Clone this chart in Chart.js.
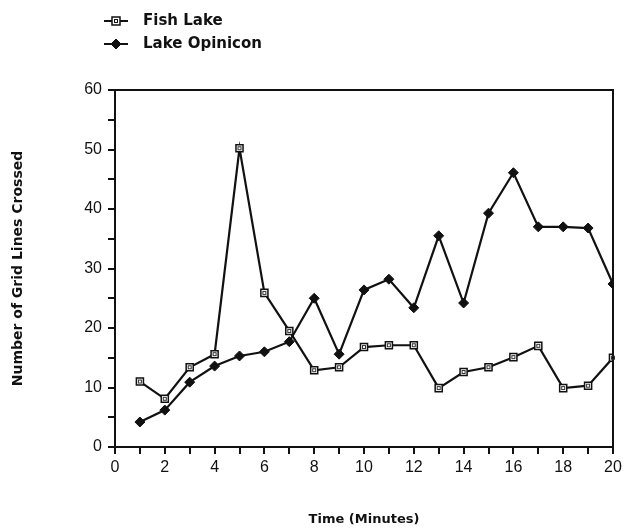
<!DOCTYPE html>
<html>
<head>
<meta charset="utf-8">
<script src="https://cdn.jsdelivr.net/npm/chart.js@4.4.0/dist/chart.umd.min.js"></script>
<style>
  html, body { margin: 0; padding: 0; background: #fff; }
  #wrap { width: 629px; height: 531px; position: relative; }
</style>
</head>
<body>
<div id="wrap"><canvas id="chart"></canvas></div>
<script>
// values
const minutes = [1, 2, 3, 4, 5, 6, 7, 8, 9, 10, 11, 12, 13, 14, 15, 16, 17, 18, 19, 20];
const fishLake = [11, 8.1, 13.4, 15.6, 50.2, 25.9, 19.5, 12.9, 13.4, 16.8, 17.1, 17.1, 9.9, 12.6, 13.4, 15.1, 17, 9.9, 10.3, 15];
const lakeOpinicon = [4.2, 6.2, 10.9, 13.6, 15.3, 16, 17.7, 25, 15.6, 26.4, 28.2, 23.4, 35.5, 24.2, 39.3, 46.1, 37, 37, 36.8, 27.4];
const seriesNames = ["Fish Lake", "Lake Opinicon"];

const toPoints = arr => arr.map((v, i) => ({ x: minutes[i], y: v }));
const boldFont = "'DejaVu Sans', Arial, sans-serif";
const tickFont = "'Liberation Sans', Arial, sans-serif";

// little legend with line + marker, like the original
const lineLegend = {
  id: "lineLegend",
  afterDraw(chart) {
    const ctx = chart.ctx;
    ctx.save();
    chart.data.datasets.forEach((ds, i) => {
      const y = 21 + i * 23;
      ctx.strokeStyle = "#111";
      ctx.lineWidth = 2;
      ctx.beginPath();
      ctx.moveTo(104, y);
      ctx.lineTo(128, y);
      ctx.stroke();
      ctx.fillStyle = ds.pointBackgroundColor;
      ctx.lineWidth = ds.pointBorderWidth;
      ctx.beginPath();
      if (ds.pointStyle === "rect") {
        ctx.rect(116 - 4, y - 4, 8, 8);
      } else {
        ctx.moveTo(116, y - 5); ctx.lineTo(121, y); ctx.lineTo(116, y + 5); ctx.lineTo(111, y);
        ctx.closePath();
      }
      ctx.fill(); ctx.stroke();
      if (ds.pointStyle === "rect") {
        ctx.lineWidth = 1;
        ctx.strokeRect(114.5, y - 1.5, 3, 3);
      }
      ctx.fillStyle = "#111";
      ctx.font = "bold 15px " + boldFont;
      ctx.textBaseline = "middle";
      ctx.fillText(ds.label, 143, y);
    });
    ctx.restore();
  }
};

// full box around the plot area
const frame = {
  id: "frame",
  afterDatasetsDraw(chart) {
    const a = chart.chartArea, ctx = chart.ctx;
    ctx.save();
    ctx.strokeStyle = "#111";
    ctx.lineWidth = 2;
    ctx.strokeRect(a.left, a.top, a.right - a.left, a.bottom - a.top);
    ctx.restore();
  }
};

// small dot in the middle of each square marker
const squareDots = {
  id: "squareDots",
  afterDatasetsDraw(chart) {
    const meta = chart.getDatasetMeta(0), ctx = chart.ctx;
    ctx.save();
    ctx.strokeStyle = "#333";
    ctx.lineWidth = 1;
    meta.data.forEach(p => ctx.strokeRect(p.x - 1.5, p.y - 1.5, 3, 3));
    ctx.restore();
  }
};

const ctx = document.getElementById("chart").getContext("2d");
const chart = new Chart(ctx, {
  type: "line",
  data: {
    datasets: [{
      label: seriesNames[0],
      data: toPoints(fishLake),
      borderColor: "#111",
      borderWidth: 2.2,
      pointStyle: "rect",
      pointRadius: 5,
      pointBackgroundColor: "#fff",
      pointBorderColor: "#111",
      pointBorderWidth: 1.5,
      tension: 0
    }, {
      label: seriesNames[1],
      data: toPoints(lakeOpinicon),
      borderColor: "#111",
      borderWidth: 2.2,
      pointStyle: "rectRot",
      pointRadius: 5,
      pointBackgroundColor: "#111",
      pointBorderColor: "#111",
      pointBorderWidth: 1,
      tension: 0
    }]
  },
  options: {
    responsive: true,
    maintainAspectRatio: false,
    animation: false,
    layout: { padding: { top: 90, right: 16, left: 0, bottom: 0 } },
    plugins: { legend: { display: false }, tooltip: { enabled: false } },
    scales: {
      x: {
        type: "linear",
        min: 0,
        max: 20,
        afterFit: s => { s.height = 84; },
        border: { color: "#111", width: 2 },
        grid: { drawOnChartArea: false, drawTicks: true, tickLength: 7, color: "#111", lineWidth: 2 },
        ticks: {
          stepSize: 1,
          autoSkip: false,
          maxRotation: 0,
          color: "#111",
          padding: 4,
          font: { family: tickFont, size: 16 },
          callback: v => (v % 2 === 0 ? v : "")
        },
        title: {
          display: true,
          text: "Time (Minutes)",
          color: "#111",
          padding: { top: 14 },
          font: { family: boldFont, size: 13, weight: "bold" }
        }
      },
      y: {
        min: 0,
        max: 60,
        afterFit: s => { s.width = 115; },
        border: { color: "#111", width: 2 },
        grid: { drawOnChartArea: false, drawTicks: true, tickLength: 7, color: "#111", lineWidth: 2 },
        ticks: {
          stepSize: 5,
          autoSkip: false,
          color: "#111",
          padding: 6,
          font: { family: tickFont, size: 16 },
          callback: v => (v % 10 === 0 ? v : "")
        },
        title: {
          display: true,
          text: "Number of Grid Lines Crossed",
          color: "#111",
          padding: { top: 10, bottom: 4 },
          font: { family: boldFont, size: 14, weight: "bold" }
        }
      }
    }
  },
  plugins: [frame, squareDots, lineLegend]
});
</script>
</body>
</html>
